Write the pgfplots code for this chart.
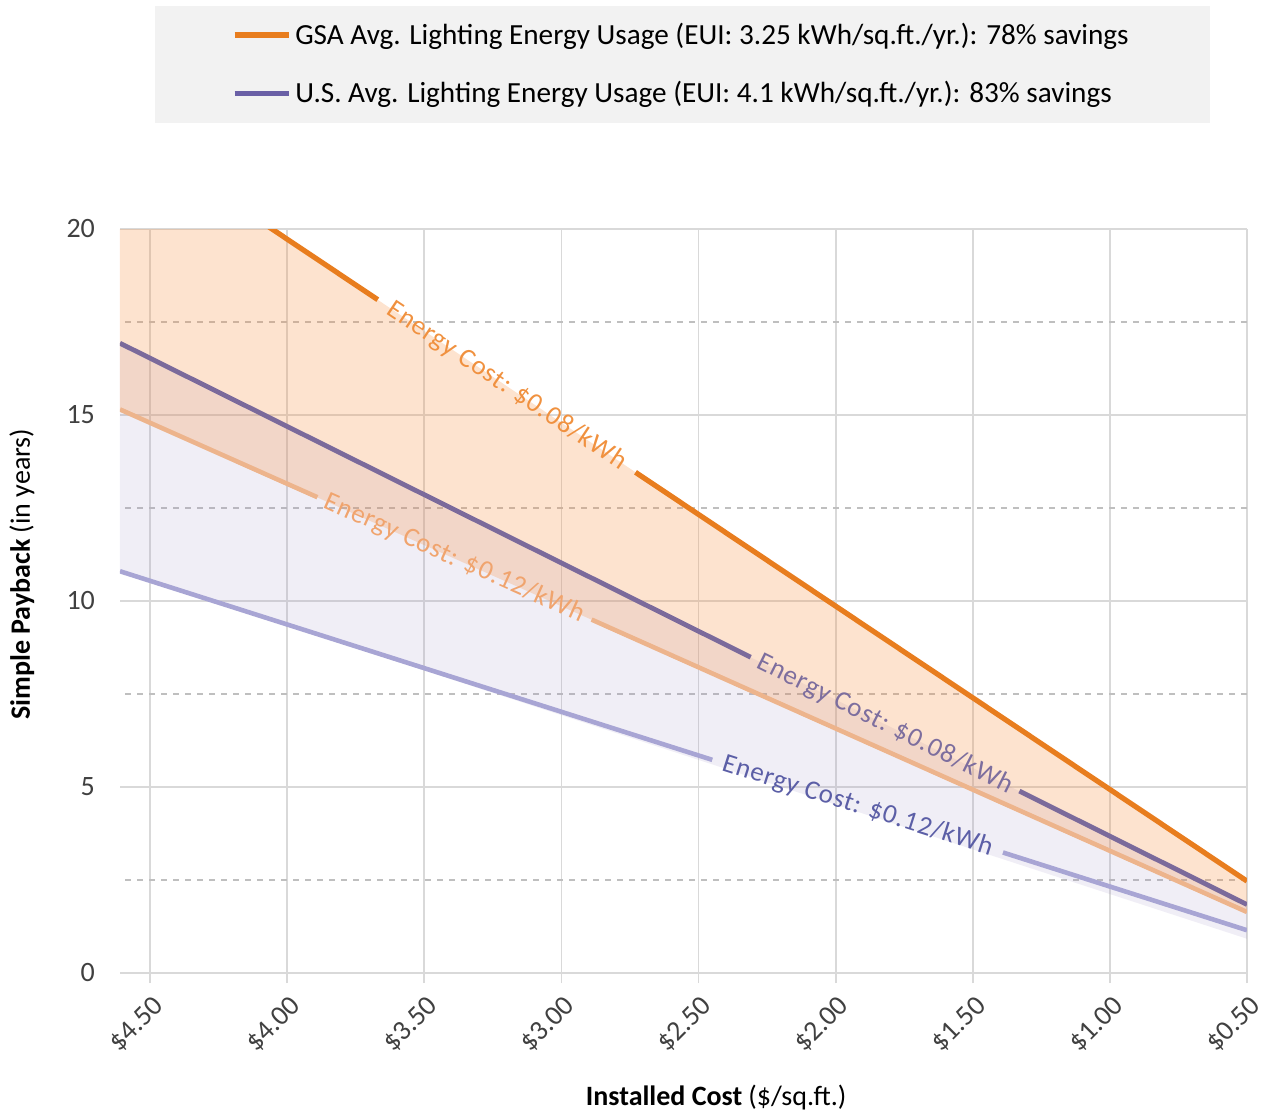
\documentclass[border=0pt]{standalone}
\usepackage{pgfplots}
\pgfplotsset{compat=1.18}
\usepackage{fontspec}
\setmainfont{Carlito}
\newfontfamily\lblfont[LetterSpace=3]{Carlito}

\definecolor{gsadark}{RGB}{232,125,30}
\definecolor{gsalight}{RGB}{237,180,140}
\definecolor{usdark}{RGB}{123,106,155}
\definecolor{uslight}{RGB}{168,165,212}
\definecolor{uslegend}{RGB}{106,96,166}
\definecolor{gsafill}{RGB}{247,143,63}
\definecolor{usfill}{RGB}{155,142,195}
\definecolor{gsalbl}{RGB}{240,145,63}
\definecolor{gsalbl2}{RGB}{240,164,110}
\definecolor{uslbl}{RGB}{125,110,158}
\definecolor{uslbl2}{RGB}{91,94,166}
\definecolor{gridgray}{RGB}{217,217,217}
\definecolor{dashgray}{RGB}{191,191,191}
\definecolor{legendgray}{RGB}{242,242,242}
\definecolor{ticktext}{RGB}{64,64,64}

\begin{document}
\begin{tikzpicture}
\begin{axis}[
    scale only axis,
    width=563.5pt, height=372pt,
    x dir=reverse,
    xmin=0.5, xmax=4.61,
    ymin=0, ymax=20,
    xtick={0.5,1,1.5,2,2.5,3,3.5,4,4.5},
    xticklabels={\$0.50,\$1.00,\$1.50,\$2.00,\$2.50,\$3.00,\$3.50,\$4.00,\$4.50},
    ytick={0,5,10,15,20},
    minor ytick={2.5,7.5,12.5,17.5},
    xmajorgrids, ymajorgrids, yminorgrids,
    major grid style={draw=gridgray, line width=0.9pt},
    minor grid style={draw=dashgray, dashed, line width=0.8pt},
    axis line style={draw=none},
    xtick pos=bottom, ytick pos=left,
    tick align=outside,
    major tick length=5pt, minor tick length=0pt,
    xtick style={draw=gridgray, line width=0.9pt},
    ytick style={draw=none},
    /pgf/number format/assume math mode=true,
    tick label style={font=\fontsize{14}{16}\selectfont, text=ticktext},
    x tick label style={rotate=45, anchor=north east, yshift=-1pt},
    y tick label style={xshift=-4pt},
    xlabel={\textbf{Installed Cost} (\$/sq.ft.)},
    ylabel={\textbf{Simple Payback} (in years)},
    label style={font=\fontsize{14}{16}\selectfont, text=black},
    xlabel style={at={(axis description cs:0.529,0)}, anchor=center, yshift=-62.5pt},
    ylabel style={at={(axis description cs:-0.087,0.536)}, anchor=center},
    legend style={at={(axis description cs:0.499,1)}, anchor=south, yshift=53pt,
        fill=legendgray, draw=none, inner xsep=38.5pt, inner ysep=6.5pt,
        row sep=13pt, font=\fontsize{14.6}{16}\selectfont},
    legend cell align=left,
    legend image code/.code={\draw[#1] (0pt,0pt) -- (27pt,0pt);},
]
\coordinate (sw) at (axis description cs:0,0);
\coordinate (ne) at (axis description cs:1,1);

\addlegendimage{gsadark, line width=2.6pt}
\addlegendentry{GSA Avg. Lighting Energy Usage (EUI: 3.25 kWh/sq.ft./yr.): 78\% savings}
\addlegendimage{uslegend, line width=2.6pt}
\addlegendentry{U.S. Avg. Lighting Energy Usage (EUI: 4.1 kWh/sq.ft./yr.): 83\% savings}

% shaded bands
\addplot[draw=none, fill=usfill, fill opacity=0.15, forget plot]
    coordinates {(4.61,16.93) (0.50,1.84) (0.50,0.92) (4.61,10.80)};
\addplot[draw=none, fill=gsafill, fill opacity=0.25, forget plot]
    coordinates {(4.61,22.73) (0.50,2.47) (0.50,1.64) (4.61,15.15)};

% GSA, $0.12/kWh
\addplot[gsalight, line width=2.3pt, forget plot] coordinates {(4.61,15.15) (3.89,12.79)};
\addplot[gsalight, line width=2.3pt, forget plot] coordinates {(2.89,9.50) (0.50,1.64)};
% U.S., $0.12/kWh
\addplot[uslight, line width=2.3pt, forget plot] coordinates {(4.61,10.80) (2.45,5.73)};
\addplot[uslight, line width=2.3pt, forget plot] coordinates {(1.39,3.24) (0.50,1.15)};
% U.S., $0.08/kWh
\addplot[usdark, line width=2.4pt, forget plot] coordinates {(4.61,16.93) (2.31,8.49)};
\addplot[usdark, line width=2.4pt, forget plot] coordinates {(1.33,4.89) (0.50,1.84)};
% GSA, $0.08/kWh
\addplot[gsadark, line width=2.6pt, forget plot] coordinates {(4.61,22.73) (3.67,18.10)};
\addplot[gsadark, line width=2.6pt, forget plot] coordinates {(2.73,13.46) (0.50,2.47)};

% labels in the gaps
\addplot[draw=none, forget plot] coordinates {(3.67,18.10) (2.73,13.46)}
    node[pos=0.5, sloped, text=gsalbl, font=\lblfont\fontsize{13.5}{15}\selectfont] {Energy Cost: \$0.08/kWh};
\addplot[draw=none, forget plot] coordinates {(3.89,12.79) (2.89,9.50)}
    node[pos=0.5, sloped, text=gsalbl2, font=\lblfont\fontsize{13.5}{15}\selectfont] {Energy Cost: \$0.12/kWh};
\addplot[draw=none, forget plot] coordinates {(2.31,8.49) (1.33,4.89)}
    node[pos=0.5, sloped, text=uslbl, font=\lblfont\fontsize{13.5}{15}\selectfont] {Energy Cost: \$0.08/kWh};
\addplot[draw=none, forget plot] coordinates {(2.45,5.73) (1.39,3.24)}
    node[pos=0.5, sloped, text=uslbl2, font=\lblfont\fontsize{13.5}{15}\selectfont] {Energy Cost: \$0.12/kWh};
\end{axis}
\pgfresetboundingbox
\path[use as bounding box] ([xshift=-60pt,yshift=-70.5pt]sw) rectangle ([xshift=8.5pt,yshift=114.5pt]ne);
\end{tikzpicture}
\end{document}
